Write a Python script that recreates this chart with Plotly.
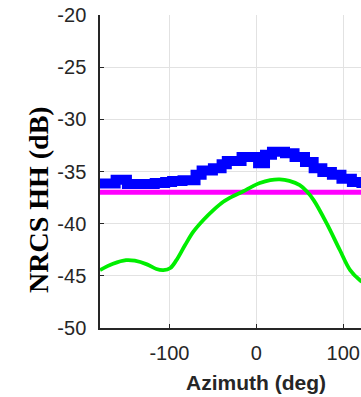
import plotly.graph_objects as go

# Azimuth sweep (deg) and NRCS HH (dB) series
az_meas = [-180, -170, -162, -149, -135, -117, -105, -97, -85, -70, -63, -50, -40, -34,
           -17, 2, 10, 18, 33, 44, 56, 66, 76, 87, 98, 110, 121, 130]
nrcs_meas = [-36.15, -36.15, -35.8, -36.2, -36.2, -36.1, -36.0, -35.9, -35.85, -35.3, -34.9,
             -34.7, -34.3, -34.0, -33.6, -34.2, -33.4, -33.1, -33.25, -33.6, -34.1, -34.7,
             -35.05, -35.3, -35.7, -36.0, -36.1, -36.2]

az_model = [-180, -165, -150, -140, -126, -115, -107, -99, -92, -82, -72.5, -61, -49.5,
            -38, -26.5, -15, -5, 4, 16, 27, 38, 50, 58, 66, 81, 96, 108, 119, 130]
nrcs_model = [-44.45, -43.85, -43.5, -43.55, -43.9, -44.35, -44.45, -44.25, -43.5, -42.05,
              -40.77, -39.65, -38.7, -37.9, -37.35, -36.9, -36.45, -36.1, -35.82, -35.75,
              -35.9, -36.3, -36.9, -37.74, -39.97, -42.5, -44.45, -45.4, -46.0]

az_floor = [-180, 130]
nrcs_floor = [-37.0, -37.0]

x_ticks = [-100, 0, 100]
x_labels = ["-100", "0", "100"]
y_ticks = [-50, -45, -40, -35, -30, -25, -20]
y_labels = ["-50", "-45", "-40", "-35", "-30", "-25", "-20"]

fig = go.Figure()
fig.add_trace(go.Scatter(x=az_floor, y=nrcs_floor, mode="lines",
                         line=dict(color="#ff00ff", width=5), showlegend=False))
fig.add_trace(go.Scatter(x=az_model, y=nrcs_model, mode="lines",
                         line=dict(color="#00ee00", width=3.8, shape="spline", smoothing=1.0),
                         showlegend=False))
fig.add_trace(go.Scatter(x=az_meas, y=nrcs_meas, mode="lines",
                         line=dict(color="#0000ff", width=10, shape="hv"),
                         showlegend=False))

tick_font = dict(family="Liberation Sans, Arial, sans-serif", size=20, color="#262626")

W, H = 361, 397
L, T, B = 100, 15, 69
plot_w, plot_h = W - L, H - T - B

fig.update_layout(
    width=W, height=H,
    margin=dict(l=L, r=0, t=T, b=B),
    paper_bgcolor="white", plot_bgcolor="white",
    xaxis=dict(range=[-180, 120.5], tickvals=x_ticks, ticktext=x_labels, ticks="inside",
               ticklen=4, tickcolor="#262626", showline=True, linecolor="#262626",
               linewidth=1.5, showgrid=True, gridcolor="#e2e2e2", gridwidth=1,
               zeroline=False, tickfont=tick_font, ticklabelstandoff=6),
    yaxis=dict(range=[-50, -20], tickvals=y_ticks, ticktext=y_labels, ticks="inside",
               ticklen=4, tickcolor="#262626", showline=True, linecolor="#262626",
               linewidth=1.5, showgrid=True, gridcolor="#e2e2e2", gridwidth=1,
               zeroline=False, tickfont=tick_font, ticklabelstandoff=8),
    annotations=[
        dict(text="<b>Azimuth (deg)</b>", x=0, xref="x",
             y=(H - B - 382) / plot_h, yref="paper",
             yanchor="middle", xanchor="center", showarrow=False,
             font=dict(family="Liberation Sans, Arial, sans-serif", size=21, color="#262626")),
        dict(text="<b>NRCS HH (dB)</b>", textangle=-90, showarrow=False,
             x=(38 - L) / plot_w, xref="paper", y=(H - B - 200) / plot_h, yref="paper",
             xanchor="center", yanchor="middle",
             font=dict(family="Liberation Serif, Times New Roman, serif", size=28, color="black")),
    ],
)

fig.write_html("out.html")
